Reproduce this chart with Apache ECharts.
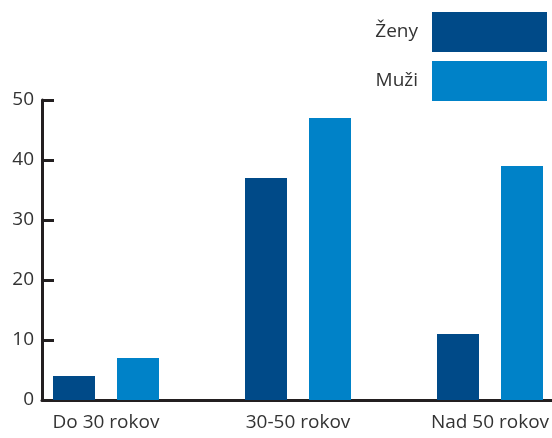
<!DOCTYPE html>
<html>
<head>
<meta charset="utf-8">
<script src="https://cdn.jsdelivr.net/npm/echarts@6/dist/echarts.min.js"></script>
<style>
  html, body { margin: 0; padding: 0; background: #fff; }
  #chart { width: 552px; height: 438px; }
</style>
</head>
<body>
<div id="chart"></div>
<script>
// vekové skupiny a hodnoty
const categories = ['Do 30 rokov', '30-50 rokov', 'Nad 50 rokov']
const zeny = [4, 37, 11]
const muzi = [7, 47, 39]
const yTicks = [0, 10, 20, 30, 40, 50]

// 8 slotov: zena, muz, medzera, zena, muz, medzera, zena, muz
const slots = ['z0', 'm0', 'g0', 'z1', 'm1', 'g1', 'z2', 'm2']
const zenyData = slots.map(s => s[0] === 'z' ? zeny[+s[1]] : '-')
const muziData = slots.map(s => s[0] === 'm' ? muzi[+s[1]] : '-')
// popisky su na hranici medzi zenou a muzom
const labelData = ['']
categories.forEach((c, i) => { labelData.push(c); if (i < categories.length - 1) labelData.push('', '') })
labelData.push('')

const dark = '#231f20'
const font = 'Open Sans'
const fs = 19

const chart = echarts.init(document.getElementById('chart'))
chart.setOption({
  animation: false,
  textStyle: { fontFamily: font },
  legend: {
    orient: 'vertical',
    right: 0,
    top: 7,
    align: 'right',
    itemWidth: 115,
    itemHeight: 40,
    itemGap: 9,
    icon: 'rect',
    selectedMode: false,
    textStyle: { fontSize: fs, color: '#333', fontFamily: font, padding: [0, 9, 0, 0] },
    data: ['Ženy', 'Muži']
  },
  grid: { left: 42, right: -2, top: 100, bottom: 38, outerBoundsMode: 'none' },
  xAxis: [
    {
      type: 'category',
      data: slots,
      axisLine: { lineStyle: { color: dark, width: 3 } },
      axisTick: { inside: true, length: 6, lineStyle: { color: dark, width: 2 } },
      axisLabel: { show: false }
    },
    {
      type: 'category',
      position: 'bottom',
      boundaryGap: false,
      data: labelData,
      axisLine: { show: false },
      axisTick: { show: false },
      axisLabel: { interval: 0, margin: 13, fontSize: fs, color: '#333', fontFamily: font }
    }
  ],
  yAxis: {
    type: 'value',
    min: yTicks[0],
    max: yTicks[yTicks.length - 1],
    interval: yTicks[1] - yTicks[0],
    splitLine: { show: false },
    axisLine: { show: true, lineStyle: { color: dark, width: 3 } },
    axisTick: { show: true, inside: true, length: 12, lineStyle: { color: dark, width: 3 } },
    axisLabel: { margin: 8, fontSize: fs, color: '#333', fontFamily: font }
  },
  series: [
    {
      name: 'Ženy',
      type: 'bar',
      data: zenyData,
      barWidth: 42,
      barGap: '-100%',
      itemStyle: { color: '#004a88' }
    },
    {
      name: 'Muži',
      type: 'bar',
      data: muziData,
      barWidth: 42,
      barGap: '-100%',
      itemStyle: { color: '#0082c8' }
    }
  ]
})
</script>
</body>
</html>
